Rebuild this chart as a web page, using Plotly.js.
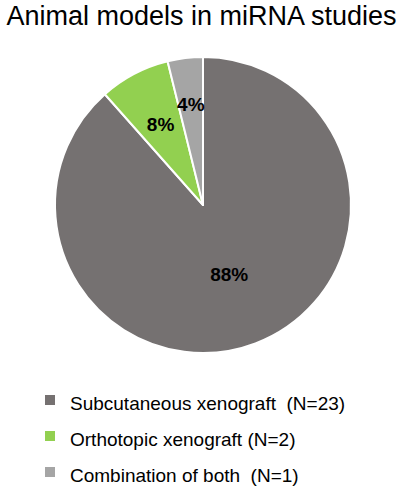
<!DOCTYPE html>
<html>
<head>
<meta charset="utf-8">
<script src="https://cdn.plot.ly/plotly-3.0.1.min.js"></script>
<style>html,body{margin:0;padding:0;background:#fff;}#chart{width:403px;height:489px;}</style>
</head>
<body>
<div id="chart"></div>
<script>
var labels = ["Subcutaneous xenograft\u00a0 (N=23)", "Orthotopic xenograft (N=2)", "Combination of both\u00a0 (N=1)"];
var counts = [23, 2, 1];
var colors = ["#757171", "#92D050", "#A5A5A5"];
var titleText = "Animal models in miRNA studies";

var FONT = "Liberation Sans, Arial, sans-serif";
var W = 403, H = 489;
var cx = 203, cy = 205, R = 148, r2 = 113;
function dom(r) { return {x: [(cx - r) / W, (cx + r) / W], y: [1 - (cy + r) / H, 1 - (cy - r) / H]}; }
var legendLabels = labels.map(function (l) { return '<span style="font-size:19px">' + l + '</span>'; });
var pct = "%{percent:.0%}";
var tfont = {family: FONT, size: 19, color: "#000000", weight: "bold"};

var data = [{
  type: "pie",
  labels: legendLabels,
  values: counts,
  sort: false,
  direction: "clockwise",
  rotation: 0,
  marker: {colors: colors, line: {color: "#ffffff", width: 2}},
  texttemplate: [pct, "", ""],
  textposition: "inside",
  insidetextorientation: "horizontal",
  textfont: tfont,
  hoverinfo: "none",
  domain: dom(R)
}, {
  type: "pie",
  labels: legendLabels,
  values: counts,
  sort: false,
  direction: "clockwise",
  rotation: 0,
  showlegend: false,
  marker: {colors: ["rgba(0,0,0,0)", "rgba(0,0,0,0)", "rgba(0,0,0,0)"], line: {width: 0}},
  texttemplate: ["", pct, pct],
  textposition: "inside",
  insidetextorientation: "horizontal",
  textfont: tfont,
  hoverinfo: "none",
  domain: dom(r2)
}];
var layout = {
  width: W, height: H,
  margin: {l: 0, r: 0, t: 0, b: 0, autoexpand: false},
  paper_bgcolor: "#ffffff",
  font: {family: FONT, color: "#000000"},
  title: {text: titleText, font: {family: FONT, size: 27, color: "#000000"}, x: 0.5, xanchor: "center", xref: "paper", yref: "container", y: 1 - 6/H, yanchor: "top"},
  uniformtext: {minsize: 19, mode: "show"},
  showlegend: true,
  legend: {x: 30/W, xanchor: "left", y: 1 - 377/H, yanchor: "top", font: {family: FONT, size: 25.4, color: "#000000"}, bgcolor: "rgba(0,0,0,0)", itemwidth: 30}
};
Plotly.newPlot("chart", data, layout, {displayModeBar: false, staticPlot: true});
</script>
</body>
</html>
